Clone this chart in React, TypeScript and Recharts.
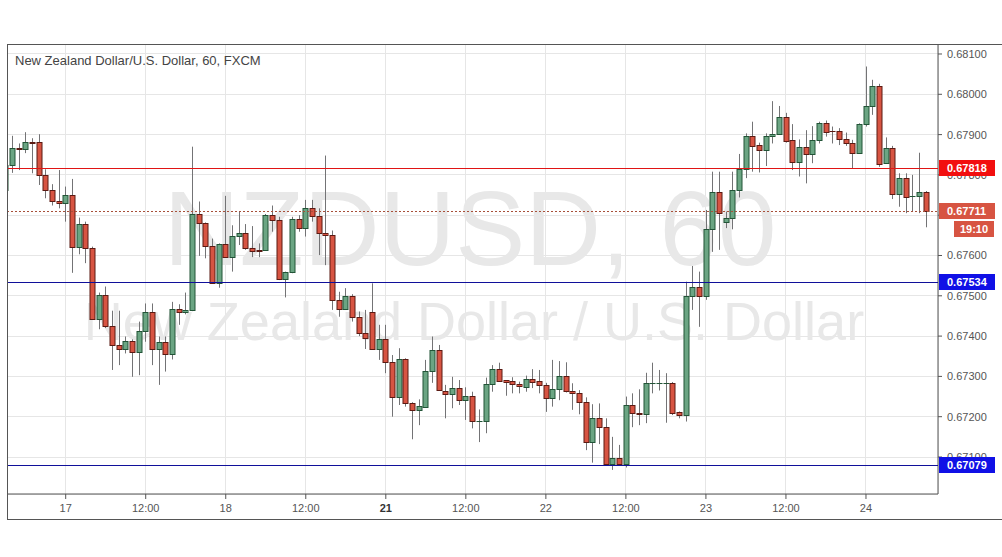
import React from "react";
import {
  ComposedChart,
  Bar,
  XAxis,
  YAxis,
  CartesianGrid,
  ReferenceLine,
  Customized
} from "recharts";

// hourly NZD/USD candles, first one (16th 15:00) is cut by the left edge
const firstIndex = -1;

const opens = [
  0.67762, 0.67825, 0.67866, 0.67864, 0.67881, 0.67881, 0.67799, 0.67762, 0.67735, 0.67730,
  0.67749, 0.67620, 0.67677, 0.67618, 0.67442, 0.67502, 0.67425, 0.67377, 0.67369, 0.67387,
  0.67361, 0.67412, 0.67459, 0.67367, 0.67385, 0.67355, 0.67467, 0.67459, 0.67464, 0.67702,
  0.67680, 0.67623, 0.67533, 0.67628, 0.67596, 0.67648, 0.67655, 0.67618, 0.67613, 0.67613,
  0.67700, 0.67687, 0.67541, 0.67558, 0.67690, 0.67667, 0.67717, 0.67697, 0.67655, 0.67650,
  0.67489, 0.67467, 0.67500, 0.67447, 0.67408, 0.67459, 0.67367, 0.67393, 0.67335, 0.67250,
  0.67342, 0.67233, 0.67217, 0.67225, 0.67313, 0.67366, 0.67265, 0.67256, 0.67270, 0.67241,
  0.67251, 0.67189, 0.67189, 0.67280, 0.67318, 0.67291, 0.67289, 0.67282, 0.67274, 0.67294,
  0.67289, 0.67279, 0.67246, 0.67268, 0.67301, 0.67265, 0.67258, 0.67236, 0.67136, 0.67196,
  0.67175, 0.67082, 0.67097, 0.67082, 0.67229, 0.67208, 0.67206, 0.67283, 0.67283, 0.67284,
  0.67284, 0.67211, 0.67204, 0.67500, 0.67523, 0.67500, 0.67665, 0.67757, 0.67682, 0.67692,
  0.67763, 0.67815, 0.67897, 0.67874, 0.67862, 0.67897, 0.67902, 0.67943, 0.67887, 0.67831,
  0.67869, 0.67851, 0.67887, 0.67928, 0.67910, 0.67910, 0.67889, 0.67878, 0.67855, 0.67926,
  0.67971, 0.68021, 0.67829, 0.67866, 0.67752, 0.67792, 0.67748, 0.67748, 0.67758
];

const highs = [
  0.67830, 0.67897, 0.67878, 0.67906, 0.67891, 0.67901, 0.67814, 0.67777, 0.67812, 0.67771,
  0.67790, 0.67694, 0.67684, 0.67622, 0.67508, 0.67523, 0.67463, 0.67463, 0.67399, 0.67392,
  0.67436, 0.67481, 0.67481, 0.67399, 0.67399, 0.67485, 0.67479, 0.67508, 0.67870, 0.67734,
  0.67682, 0.67642, 0.67630, 0.67748, 0.67675, 0.67710, 0.67678, 0.67673, 0.67630, 0.67703,
  0.67724, 0.67696, 0.67560, 0.67696, 0.67700, 0.67738, 0.67738, 0.67717, 0.67848, 0.67662,
  0.67510, 0.67519, 0.67504, 0.67461, 0.67465, 0.67531, 0.67428, 0.67428, 0.67353, 0.67370,
  0.67345, 0.67236, 0.67243, 0.67341, 0.67399, 0.67378, 0.67279, 0.67299, 0.67291, 0.67273,
  0.67262, 0.67218, 0.67297, 0.67328, 0.67334, 0.67291, 0.67298, 0.67287, 0.67302, 0.67318,
  0.67316, 0.67284, 0.67341, 0.67338, 0.67335, 0.67283, 0.67266, 0.67248, 0.67231, 0.67233,
  0.67196, 0.67150, 0.67130, 0.67250, 0.67258, 0.67268, 0.67309, 0.67334, 0.67316, 0.67308,
  0.67286, 0.67213, 0.67535, 0.67574, 0.67560, 0.67713, 0.67808, 0.67808, 0.67709, 0.67808,
  0.67852, 0.67903, 0.67932, 0.67880, 0.67903, 0.67983, 0.67971, 0.67954, 0.67926, 0.67888,
  0.67911, 0.67921, 0.67932, 0.67935, 0.67920, 0.67916, 0.67905, 0.67887, 0.67928, 0.68069,
  0.68036, 0.68026, 0.67893, 0.67872, 0.67804, 0.67804, 0.67800, 0.67855, 0.67760
];

const lows = [
  0.67755, 0.67805, 0.67812, 0.67854, 0.67804, 0.67775, 0.67742, 0.67724, 0.67717, 0.67684,
  0.67557, 0.67603, 0.67581, 0.67440, 0.67417, 0.67420, 0.67316, 0.67328, 0.67357, 0.67299,
  0.67303, 0.67386, 0.67328, 0.67279, 0.67312, 0.67342, 0.67428, 0.67454, 0.67462, 0.67599,
  0.67593, 0.67531, 0.67520, 0.67594, 0.67560, 0.67626, 0.67614, 0.67596, 0.67596, 0.67612,
  0.67659, 0.67539, 0.67496, 0.67556, 0.67659, 0.67647, 0.67684, 0.67601, 0.67576, 0.67465,
  0.67448, 0.67465, 0.67436, 0.67400, 0.67368, 0.67367, 0.67341, 0.67308, 0.67200, 0.67229,
  0.67225, 0.67144, 0.67179, 0.67222, 0.67284, 0.67266, 0.67196, 0.67221, 0.67229, 0.67192,
  0.67171, 0.67137, 0.67159, 0.67262, 0.67289, 0.67252, 0.67258, 0.67258, 0.67262, 0.67271,
  0.67258, 0.67212, 0.67225, 0.67241, 0.67260, 0.67217, 0.67206, 0.67117, 0.67086, 0.67132,
  0.67082, 0.67068, 0.67080, 0.67074, 0.67174, 0.67179, 0.67184, 0.67258, 0.67265, 0.67185,
  0.67204, 0.67196, 0.67188, 0.67465, 0.67423, 0.67490, 0.67609, 0.67614, 0.67668, 0.67665,
  0.67744, 0.67792, 0.67808, 0.67806, 0.67822, 0.67878, 0.67899, 0.67880, 0.67812, 0.67796,
  0.67779, 0.67829, 0.67878, 0.67895, 0.67878, 0.67874, 0.67872, 0.67816, 0.67855, 0.67920,
  0.67949, 0.67820, 0.67829, 0.67740, 0.67721, 0.67705, 0.67709, 0.67705, 0.67670
];

const closes = [
  0.67825, 0.67866, 0.67864, 0.67881, 0.67880, 0.67799, 0.67762, 0.67734, 0.67730, 0.67749,
  0.67620, 0.67677, 0.67618, 0.67442, 0.67502, 0.67425, 0.67377, 0.67369, 0.67387, 0.67361,
  0.67412, 0.67459, 0.67367, 0.67385, 0.67355, 0.67467, 0.67459, 0.67464, 0.67702, 0.67680,
  0.67623, 0.67533, 0.67628, 0.67596, 0.67648, 0.67655, 0.67618, 0.67611, 0.67612, 0.67700,
  0.67687, 0.67541, 0.67558, 0.67690, 0.67667, 0.67717, 0.67697, 0.67655, 0.67650, 0.67489,
  0.67467, 0.67500, 0.67447, 0.67408, 0.67395, 0.67367, 0.67393, 0.67335, 0.67250, 0.67342,
  0.67233, 0.67217, 0.67227, 0.67313, 0.67366, 0.67266, 0.67256, 0.67271, 0.67241, 0.67251,
  0.67189, 0.67190, 0.67280, 0.67318, 0.67289, 0.67287, 0.67280, 0.67276, 0.67293, 0.67287,
  0.67278, 0.67246, 0.67268, 0.67301, 0.67265, 0.67258, 0.67236, 0.67136, 0.67196, 0.67175,
  0.67082, 0.67097, 0.67082, 0.67229, 0.67208, 0.67206, 0.67283, 0.67283, 0.67283, 0.67284,
  0.67210, 0.67204, 0.67500, 0.67523, 0.67500, 0.67665, 0.67757, 0.67705, 0.67694, 0.67763,
  0.67815, 0.67897, 0.67872, 0.67862, 0.67897, 0.67902, 0.67943, 0.67884, 0.67831, 0.67869,
  0.67851, 0.67887, 0.67928, 0.67907, 0.67909, 0.67888, 0.67878, 0.67855, 0.67926, 0.67971,
  0.68021, 0.67827, 0.67866, 0.67752, 0.67792, 0.67746, 0.67748, 0.67758, 0.67711
];

const timeTicks = [8, 20, 32, 44, 56, 68, 80, 92, 104, 116, 128];
const timeLabels = ["17", "12:00", "18", "12:00", "21", "12:00", "22", "12:00", "23", "12:00", "24"];
const priceTicks = [0.671, 0.672, 0.673, 0.674, 0.675, 0.676, 0.677, 0.678, 0.679, 0.68, 0.681];

const resistance = 0.67818;
const upperSupport = 0.67534;
const lowerSupport = 0.67079;
const lastPrice = 0.67711;
const countdown = "19:10";

const candles = opens.map((o, k) => ({
  i: k + firstIndex,
  open: o,
  high: highs[k],
  low: lows[k],
  close: closes[k]
}));

const FONT = "'Liberation Sans', Arial, sans-serif";
const X_DOMAIN = [-0.8, 138.8];
const Y_DOMAIN = [0.670082, 0.681248];

function Candle(props: any) {
  const { x, y, width, height, payload } = props;
  if (x == null || y == null) return null;
  const { open, close, high, low } = payload;
  const up = close >= open;
  const ppu = high > low ? height / (high - low) : 0;
  const cx = Math.round(x + width / 2) + 0.5;
  const top = Math.round(y + (high - Math.max(open, close)) * ppu) + 0.5;
  const bot = Math.round(y + (high - Math.min(open, close)) * ppu) + 0.5;
  return (
    <g>
      <line x1={cx} x2={cx} y1={y} y2={y + height} stroke="#737375" strokeWidth={1} />
      <rect
        x={cx - 2.5}
        y={top}
        width={5}
        height={Math.max(bot - top, 0.01)}
        fill={up ? "#6ba583" : "#d75442"}
        stroke={up ? "#225437" : "#5b1a13"}
        strokeWidth={1}
      />
    </g>
  );
}

// horizontal level: a 1px line across the plot plus its tag on the price scale
function Level(props: any) {
  const { viewBox, value, line, bg, dashed, sub } = props;
  if (!viewBox) return null;
  const y = Math.round(viewBox.y);
  const left = viewBox.x + viewBox.width + 1;
  return (
    <g>
      <line
        x1={viewBox.x}
        x2={viewBox.x + viewBox.width}
        y1={y + 0.5}
        y2={y + 0.5}
        stroke={line}
        strokeWidth={1}
        strokeDasharray={dashed ? "2 2" : undefined}
      />
      <rect x={left} y={y - 8} width={56} height={16} fill={bg} />
      <text x={left + 8} y={y + 4} fill="#fff" fontSize={11} fontWeight="bold" fontFamily={FONT}>
        {value.toFixed(5)}
      </text>
      {sub ? (
        <g>
          <rect x={left + 15} y={y + 10} width={40} height={16} fill={bg} />
          <text x={left + 35} y={y + 22} fill="#fff" fontSize={11} fontWeight="bold" fontFamily={FONT} textAnchor="middle">
            {sub}
          </text>
        </g>
      ) : null}
    </g>
  );
}

function TimeTick(props: any) {
  const { x, y, payload } = props;
  const label = timeLabels[timeTicks.indexOf(payload.value)];
  return (
    <text
      x={x}
      y={y}
      dy="0.71em"
      textAnchor="middle"
      fontSize={11}
      fontFamily={FONT}
      fill={label === "21" ? "#333" : "#555"}
      fontWeight={label === "21" ? "bold" : "normal"}
    >
      {label}
    </text>
  );
}

function Watermark() {
  return (
    <g fontFamily={FONT} fill="#e8e8e8">
      <text x={470} y={265} fontSize={105} textAnchor="middle">NZDUSD, 60</text>
      <text x={474} y={340} fontSize={54} textAnchor="middle">New Zealand Dollar / U.S. Dollar</text>
    </g>
  );
}

function Title() {
  return (
    <text x={15} y={65} fontSize={13} fontFamily={FONT} fill="#444">
      New Zealand Dollar/U.S. Dollar, 60, FXCM
    </text>
  );
}

export default function App() {
  return (
    <div style={{ position: "absolute", left: 0, top: 0, width: 1002, height: 557, background: "#fff" }}>
      <ComposedChart
        width={1002}
        height={557}
        data={candles}
        margin={{ top: 44, right: 0, bottom: 37, left: 7 }}
      >
        <CartesianGrid stroke="#e6e6e6" shapeRendering="crispEdges" />
        <Customized component={Watermark} />
        <XAxis
          dataKey="i"
          type="number"
          domain={X_DOMAIN}
          allowDataOverflow
          ticks={timeTicks}
          interval={0}
          height={26}
          tickSize={5}
          tickMargin={5}
          axisLine={{ stroke: "#555" }}
          tickLine={{ stroke: "#555" }}
          tick={<TimeTick />}
        />
        <YAxis
          orientation="right"
          type="number"
          domain={Y_DOMAIN}
          allowDataOverflow
          ticks={priceTicks}
          interval={0}
          width={64}
          tickSize={4}
          tickMargin={5}
          tickFormatter={(v: number) => v.toFixed(5)}
          axisLine={{ stroke: "#555" }}
          tickLine={{ stroke: "#555" }}
          tick={{ fontSize: 11, fill: "#555", fontFamily: FONT }}
        />
        <Bar
          dataKey={(d: any) => [d.low, d.high]}
          barSize={6}
          shape={(p: any) => <Candle {...p} />}
          isAnimationActive={false}
        />
        <Customized component={Title} />
      </ComposedChart>

      {/* levels and their tags sit above the axis text, so they live in a second, transparent chart */}
      <div style={{ position: "absolute", left: 0, top: 0, pointerEvents: "none" }}>
        <ComposedChart
          width={1002}
          height={557}
          data={candles}
          margin={{ top: 44, right: 64, bottom: 63, left: 7 }}
        >
          <XAxis dataKey="i" type="number" domain={X_DOMAIN} allowDataOverflow hide />
          <YAxis type="number" domain={Y_DOMAIN} allowDataOverflow hide />
          <ReferenceLine
            y={resistance}
            stroke="transparent"
            strokeWidth={0}
            label={<Level value={resistance} line="#e01414" bg="#f20f0f" />}
          />
          <ReferenceLine
            y={upperSupport}
            stroke="transparent"
            strokeWidth={0}
            label={<Level value={upperSupport} line="#10109a" bg="#1010e6" />}
          />
          <ReferenceLine
            y={lowerSupport}
            stroke="transparent"
            strokeWidth={0}
            label={<Level value={lowerSupport} line="#10109a" bg="#1010e6" />}
          />
          <ReferenceLine
            y={lastPrice}
            stroke="transparent"
            strokeWidth={0}
            label={<Level value={lastPrice} line="#a8503a" bg="#d75442" dashed sub={countdown} />}
          />
        </ComposedChart>
      </div>

      <div
        style={{
          position: "absolute",
          left: 7,
          top: 44,
          width: 995,
          height: 476,
          boxSizing: "border-box",
          borderTop: "1px solid #555",
          borderLeft: "1px solid #555",
          borderBottom: "1px solid #555",
          pointerEvents: "none"
        }}
      />
    </div>
  );
}
